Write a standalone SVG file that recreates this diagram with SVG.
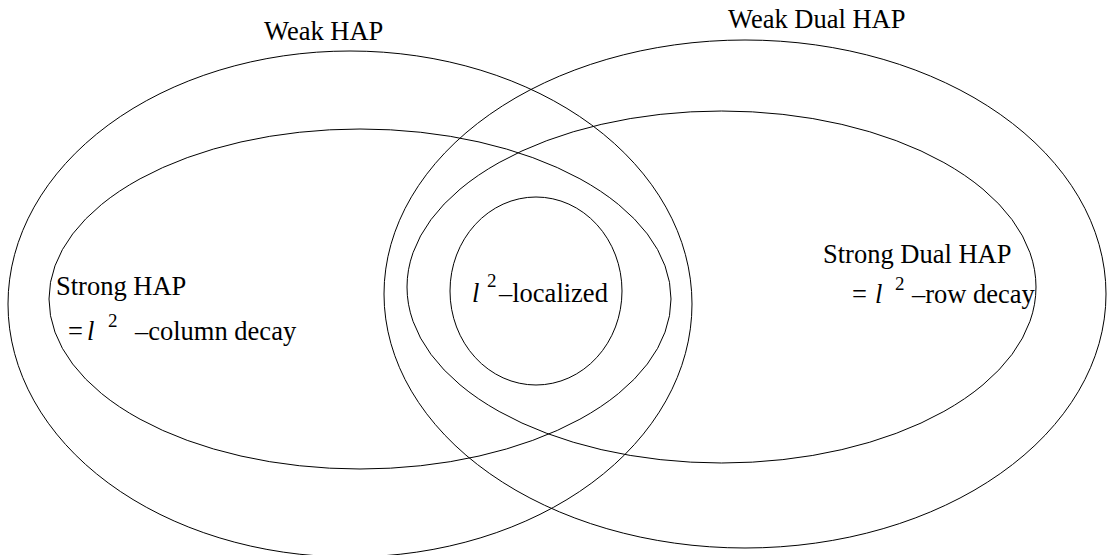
<svg xmlns="http://www.w3.org/2000/svg" width="1108" height="555" viewBox="0 0 1108 555">
<style>
.set{fill:none;stroke:#000;stroke-width:1}
.t{font-family:"Liberation Serif","Times New Roman",serif;font-size:26.5px;fill:#000}
.i{font-style:italic}
.sup{font-size:19px}
</style>
<rect width="1108" height="555" fill="#fff"/>
<g id="weak-hap">
<ellipse class="set" cx="350" cy="304" rx="342" ry="253"/>
<text class="t" x="264" y="40">Weak HAP</text>
</g>
<g id="weak-dual-hap">
<ellipse class="set" cx="745" cy="294" rx="361" ry="254"/>
<text class="t" x="728" y="28">Weak Dual HAP</text>
</g>
<g id="strong-hap">
<ellipse class="set" cx="360" cy="299" rx="311" ry="170"/>
<text class="t" x="56" y="295">Strong HAP</text>
<text class="t" y="340"><tspan x="68">=</tspan><tspan class="i" x="87">l</tspan><tspan class="sup" x="108" y="327">2</tspan><tspan x="135" y="340">–column decay</tspan></text>
</g>
<g id="strong-dual-hap">
<ellipse class="set" cx="721.5" cy="287" rx="314.5" ry="176"/>
<text class="t" x="823" y="263">Strong Dual HAP</text>
<text class="t" y="303"><tspan x="852">=</tspan><tspan class="i" x="875">l</tspan><tspan class="sup" x="895" y="290">2</tspan><tspan x="912" y="303">–row decay</tspan></text>
</g>
<g id="l2-localized">
<ellipse class="set" cx="536" cy="291" rx="86" ry="94"/>
<text class="t" y="302"><tspan class="i" x="472">l</tspan><tspan class="sup" x="487" y="287">2</tspan><tspan x="499" y="302">–localized</tspan></text>
</g>
</svg>
